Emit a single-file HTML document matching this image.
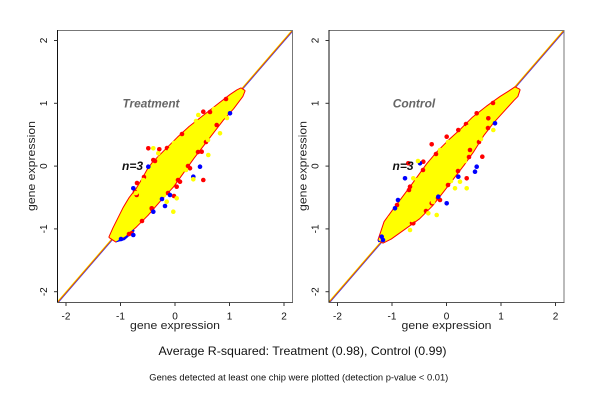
<!DOCTYPE html>
<html><head><meta charset="utf-8"><style>
html,body{margin:0;padding:0;background:#fff;}
svg{display:block;}
text{font-family:"Liberation Sans",Arial,sans-serif;}
</style></head><body>
<svg width="600" height="400" viewBox="0 0 600 400" xmlns="http://www.w3.org/2000/svg">
<rect width="600" height="400" fill="#fff"/>
<defs>
<clipPath id="cl"><rect x="57.5" y="30.5" width="235" height="272"/></clipPath>
<clipPath id="cr"><rect x="329" y="30.5" width="235" height="272"/></clipPath>
</defs>

<!-- LEFT PANEL -->
<g clip-path="url(#cl)">
<line x1="56.8" y1="302.5" x2="291.8" y2="30.5" stroke="#ffee00" stroke-width="1"/>
<line x1="58.2" y1="302.5" x2="293.2" y2="30.5" stroke="#3030ff" stroke-width="1"/>
<line x1="57.5" y1="302.5" x2="292.5" y2="30.5" stroke="#e86000" stroke-width="1"/>
<polygon points="110,237 114,228 118,220 124,208 130,198 137,189 143,179 148,170 153,163 162,154 170,146 178,138 190,127 204,116 218,105 231,95 237,91 241,89 244,91 242,96 233,108 223,119 213,132 203,145 193,158 183,172 173,186 160,200 147,215 136,226 125,236 116,241" fill="#ff0000" stroke="#ff0000" stroke-width="3" stroke-linejoin="round"/>
<polyline points="116,241 124,239 134,230" fill="none" stroke="#0000ff" stroke-width="2.5"/>
<polygon points="110,237 114,228 118,220 124,208 130,198 137,189 143,179 148,170 153,163 162,154 170,146 178,138 190,127 204,116 218,105 231,95 237,91 241,89 244,91 242,96 233,108 223,119 213,132 203,145 193,158 183,172 173,186 160,200 147,215 136,226 125,236 116,241" fill="#ffff00" stroke="#ffff00" stroke-width="1" stroke-linejoin="round"/>
<g fill="#ff0000">
<circle cx="206" cy="142" r="2.3"/><circle cx="198" cy="152" r="2.3"/><circle cx="188" cy="166" r="2.3"/><circle cx="178" cy="180" r="2.3"/><circle cx="168" cy="193" r="2.3"/><circle cx="152" cy="209" r="2.3"/><circle cx="142" cy="221" r="2.3"/><circle cx="129" cy="234" r="2.3"/>
<circle cx="144" cy="177" r="2.3"/><circle cx="155" cy="161" r="2.3"/><circle cx="167" cy="148" r="2.3"/><circle cx="182" cy="134" r="2.3"/><circle cx="210" cy="112" r="2.3"/><circle cx="226" cy="99" r="2.3"/>
<circle cx="148.3" cy="148.3" r="2.3"/><circle cx="159.3" cy="149.3" r="2.3"/><circle cx="153.3" cy="160" r="2.3"/><circle cx="135" cy="191.7" r="2.3"/><circle cx="136.7" cy="195" r="2.3"/><circle cx="176.7" cy="186.7" r="2.3"/><circle cx="180" cy="181.7" r="2.3"/><circle cx="203.3" cy="111.7" r="2.3"/><circle cx="216.7" cy="125" r="2.3"/><circle cx="201.7" cy="151.7" r="2.3"/><circle cx="190" cy="168.3" r="2.3"/><circle cx="151.7" cy="208.3" r="2.3"/><circle cx="131.7" cy="233.3" r="2.3"/><circle cx="203.3" cy="180" r="2.3"/><circle cx="174" cy="196" r="2.3"/><circle cx="137" cy="183" r="2.3"/>
</g>
<g fill="#0000ff">
<circle cx="121" cy="239" r="2.3"/><circle cx="162" cy="199" r="2.3"/>
<circle cx="148.3" cy="166.7" r="2.3"/><circle cx="133.3" cy="188.3" r="2.3"/><circle cx="170" cy="195" r="2.3"/><circle cx="193.3" cy="176.7" r="2.3"/><circle cx="200" cy="166.7" r="2.3"/><circle cx="153.3" cy="211.7" r="2.3"/><circle cx="133.3" cy="235" r="2.3"/><circle cx="230" cy="113.3" r="2.3"/><circle cx="165" cy="206" r="2.3"/>
</g>
<g fill="#ffff00">
<circle cx="136" cy="193" r="2.3"/><circle cx="148" cy="175" r="2.3"/><circle cx="160" cy="158" r="2.3"/><circle cx="174" cy="143" r="2.3"/><circle cx="196" cy="121" r="2.3"/><circle cx="214" cy="109" r="2.3"/><circle cx="227" cy="118" r="2.3"/><circle cx="208" cy="140" r="2.3"/><circle cx="186" cy="170" r="2.3"/><circle cx="164" cy="195" r="2.3"/><circle cx="128" cy="215" r="2.3"/><circle cx="118" cy="229" r="2.3"/>
<circle cx="198.3" cy="115" r="2.3"/><circle cx="220" cy="133.3" r="2.3"/><circle cx="208.3" cy="155" r="2.3"/><circle cx="193.3" cy="179.3" r="2.3"/><circle cx="176.7" cy="198.3" r="2.3"/><circle cx="173.3" cy="211.7" r="2.3"/><circle cx="166.7" cy="201.7" r="2.3"/><circle cx="143.3" cy="180" r="2.3"/><circle cx="158.3" cy="153.3" r="2.3"/><circle cx="170" cy="150" r="2.3"/><circle cx="153.3" cy="148.3" r="2.3"/><circle cx="213" cy="119" r="2.3"/>
</g>
</g>
<rect x="57.5" y="30.5" width="235" height="272" fill="none" stroke="#777" stroke-width="1"/>
<line x1="57.5" y1="30" x2="57.5" y2="303" stroke="#111" stroke-width="1"/>
<line x1="57" y1="302.5" x2="293" y2="302.5" stroke="#555" stroke-width="1"/>
<g stroke="#333" stroke-width="1">
<line x1="66" y1="302.5" x2="66" y2="306"/><line x1="120.5" y1="302.5" x2="120.5" y2="306"/><line x1="175" y1="302.5" x2="175" y2="306"/><line x1="229.5" y1="302.5" x2="229.5" y2="306"/><line x1="284" y1="302.5" x2="284" y2="306"/>
<line x1="54" y1="40.5" x2="57.5" y2="40.5"/><line x1="54" y1="103.3" x2="57.5" y2="103.3"/><line x1="54" y1="166.1" x2="57.5" y2="166.1"/><line x1="54" y1="228.9" x2="57.5" y2="228.9"/><line x1="54" y1="291.7" x2="57.5" y2="291.7"/>
</g>
<g font-size="10" fill="#111" text-anchor="middle">
<text x="66" y="319.5">-2</text><text x="120.5" y="319.5">-1</text><text x="175" y="319.5">0</text><text x="229.5" y="319.5">1</text><text x="284" y="319.5">2</text>
<text transform="translate(47,40.5) rotate(-90)">2</text>
<text transform="translate(47,103.3) rotate(-90)">1</text>
<text transform="translate(47,166.1) rotate(-90)">0</text>
<text transform="translate(47,228.9) rotate(-90)">-1</text>
<text transform="translate(47,291.7) rotate(-90)">-2</text>
</g>
<text x="130" y="329" font-size="11" fill="#222" textLength="90" lengthAdjust="spacingAndGlyphs">gene expression</text>
<text transform="translate(35,211) rotate(-90)" font-size="11" fill="#222" textLength="90" lengthAdjust="spacingAndGlyphs">gene expression</text>
<text x="122.5" y="107.5" font-size="12" font-weight="bold" font-style="italic" fill="#666" textLength="57" lengthAdjust="spacingAndGlyphs">Treatment</text>
<text x="122" y="170" font-size="12" font-weight="bold" font-style="italic" fill="#111" textLength="21" lengthAdjust="spacingAndGlyphs">n=3</text>

<!-- RIGHT PANEL -->
<g clip-path="url(#cr)">
<line x1="328.3" y1="302.5" x2="563.3" y2="30.5" stroke="#ffee00" stroke-width="1"/>
<line x1="329.7" y1="302.5" x2="564.7" y2="30.5" stroke="#3030ff" stroke-width="1"/>
<line x1="329" y1="302.5" x2="564" y2="30.5" stroke="#e86000" stroke-width="1"/>
<polygon points="379,240 382,231 385,222 393,211 402,199 411,187 419,176 427,165 438,152 450,140 460,131 473,118 487,107 501,97 509,92 515,88 519,90 517,96 513,100 503,111 493,122 483,135 473,151 463,165 453,178 443,191 432,205 419,218 405,228 391,238 383,242" fill="#ff0000" stroke="#ff0000" stroke-width="3" stroke-linejoin="round"/>
<polyline points="378,241 386,239" fill="none" stroke="#0000ff" stroke-width="2.5"/>
<polygon points="379,240 382,231 385,222 393,211 402,199 411,187 419,176 427,165 438,152 450,140 460,131 473,118 487,107 501,97 509,92 515,88 519,90 517,96 513,100 503,111 493,122 483,135 473,151 463,165 453,178 443,191 432,205 419,218 405,228 391,238 383,242" fill="#ffff00" stroke="#ffff00" stroke-width="1" stroke-linejoin="round"/>
<g fill="#ff0000">
<circle cx="488" cy="128" r="2.3"/><circle cx="479" cy="142" r="2.3"/><circle cx="469" cy="157" r="2.3"/><circle cx="458" cy="171" r="2.3"/><circle cx="448" cy="185" r="2.3"/><circle cx="438" cy="198" r="2.3"/><circle cx="426" cy="211" r="2.3"/><circle cx="412" cy="223" r="2.3"/>
<circle cx="397" cy="205" r="2.3"/><circle cx="409" cy="190" r="2.3"/><circle cx="423" cy="170" r="2.3"/><circle cx="436" cy="154" r="2.3"/><circle cx="466" cy="124" r="2.3"/><circle cx="493" cy="103" r="2.3"/>
<circle cx="446.7" cy="136.7" r="2.3"/><circle cx="458.3" cy="130" r="2.3"/><circle cx="476.7" cy="113.3" r="2.3"/><circle cx="431.7" cy="144.3" r="2.3"/><circle cx="423.3" cy="161.7" r="2.3"/><circle cx="466.7" cy="178.3" r="2.3"/><circle cx="431.7" cy="203.3" r="2.3"/><circle cx="440" cy="200" r="2.3"/><circle cx="413.3" cy="223.3" r="2.3"/><circle cx="410" cy="186.7" r="2.3"/><circle cx="470" cy="150" r="2.3"/><circle cx="488.3" cy="118.3" r="2.3"/><circle cx="482.3" cy="156.7" r="2.3"/><circle cx="408.3" cy="163.3" r="2.3"/>
</g>
<g fill="#0000ff">
<circle cx="383" cy="240" r="2.3"/><circle cx="398" cy="200" r="2.3"/>
<circle cx="405" cy="178.3" r="2.3"/><circle cx="420" cy="163.3" r="2.3"/><circle cx="476.7" cy="166.7" r="2.3"/><circle cx="475" cy="171.7" r="2.3"/><circle cx="458.3" cy="176.7" r="2.3"/><circle cx="446.7" cy="203.3" r="2.3"/><circle cx="395" cy="208.3" r="2.3"/><circle cx="381.7" cy="236.7" r="2.3"/><circle cx="495" cy="123.3" r="2.3"/><circle cx="438.3" cy="196.7" r="2.3"/>
</g>
<g fill="#ffff00">
<circle cx="390" cy="218" r="2.3"/><circle cx="402" cy="202" r="2.3"/><circle cx="417" cy="180" r="2.3"/><circle cx="432" cy="162" r="2.3"/><circle cx="448" cy="142" r="2.3"/><circle cx="468" cy="127" r="2.3"/><circle cx="486" cy="114" r="2.3"/><circle cx="481" cy="139" r="2.3"/><circle cx="465" cy="161" r="2.3"/><circle cx="451" cy="181" r="2.3"/><circle cx="433" cy="202" r="2.3"/><circle cx="412" cy="220" r="2.3"/>
<circle cx="436.7" cy="215" r="2.3"/><circle cx="428.3" cy="213.3" r="2.3"/><circle cx="410" cy="230" r="2.3"/><circle cx="455" cy="188.3" r="2.3"/><circle cx="466.7" cy="188.3" r="2.3"/><circle cx="460" cy="181.7" r="2.3"/><circle cx="413.3" cy="178.3" r="2.3"/><circle cx="440" cy="150" r="2.3"/><circle cx="493.3" cy="130" r="2.3"/><circle cx="451.7" cy="161.7" r="2.3"/><circle cx="418" cy="161" r="2.3"/>
</g>
</g>
<rect x="329" y="30.5" width="235" height="272" fill="none" stroke="#777" stroke-width="1"/>
<line x1="329" y1="30" x2="329" y2="303" stroke="#111" stroke-width="1"/>
<line x1="328.5" y1="302.5" x2="564.5" y2="302.5" stroke="#555" stroke-width="1"/>
<g stroke="#333" stroke-width="1">
<line x1="337.5" y1="302.5" x2="337.5" y2="306"/><line x1="392" y1="302.5" x2="392" y2="306"/><line x1="446.5" y1="302.5" x2="446.5" y2="306"/><line x1="501" y1="302.5" x2="501" y2="306"/><line x1="555.5" y1="302.5" x2="555.5" y2="306"/>
<line x1="325.5" y1="40.5" x2="329" y2="40.5"/><line x1="325.5" y1="103.3" x2="329" y2="103.3"/><line x1="325.5" y1="166.1" x2="329" y2="166.1"/><line x1="325.5" y1="228.9" x2="329" y2="228.9"/><line x1="325.5" y1="291.7" x2="329" y2="291.7"/>
</g>
<g font-size="10" fill="#111" text-anchor="middle">
<text x="337.5" y="319.5">-2</text><text x="392" y="319.5">-1</text><text x="446.5" y="319.5">0</text><text x="501" y="319.5">1</text><text x="555.5" y="319.5">2</text>
<text transform="translate(318.5,40.5) rotate(-90)">2</text>
<text transform="translate(318.5,103.3) rotate(-90)">1</text>
<text transform="translate(318.5,166.1) rotate(-90)">0</text>
<text transform="translate(318.5,228.9) rotate(-90)">-1</text>
<text transform="translate(318.5,291.7) rotate(-90)">-2</text>
</g>
<text x="401.5" y="329" font-size="11" fill="#222" textLength="90" lengthAdjust="spacingAndGlyphs">gene expression</text>
<text transform="translate(306.5,211) rotate(-90)" font-size="11" fill="#222" textLength="90" lengthAdjust="spacingAndGlyphs">gene expression</text>
<text x="392.7" y="107.5" font-size="12" font-weight="bold" font-style="italic" fill="#666" textLength="42.5" lengthAdjust="spacingAndGlyphs">Control</text>
<text x="392.5" y="170" font-size="12" font-weight="bold" font-style="italic" fill="#111" textLength="21" lengthAdjust="spacingAndGlyphs">n=3</text>

<!-- Bottom captions -->
<text x="158.5" y="355" font-size="12" fill="#111" textLength="288" lengthAdjust="spacingAndGlyphs">Average R-squared: Treatment (0.98), Control (0.99)</text>
<text x="149.3" y="380.5" font-size="9" fill="#111" textLength="299" lengthAdjust="spacingAndGlyphs">Genes detected at least one chip were plotted (detection p-value &lt; 0.01)</text>
</svg>
</body></html>
